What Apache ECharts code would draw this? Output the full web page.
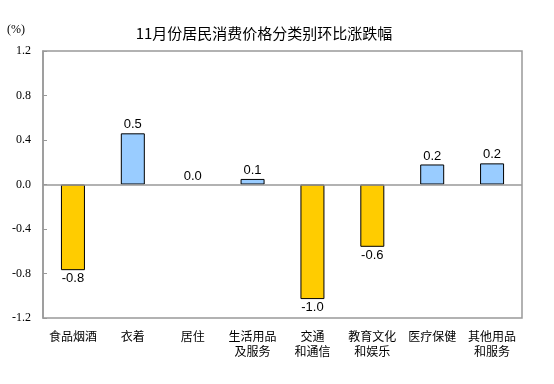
<!DOCTYPE html>
<html><head><meta charset="utf-8">
<script src="https://cdn.jsdelivr.net/npm/echarts@6/dist/echarts.min.js"></script>
<style>html,body{margin:0;padding:0;background:#fff}#c{width:554px;height:384px}</style>
</head><body><div id="c"></div>
<script>
const categories = ['食品烟酒','衣着','居住','生活用品\n及服务','交通\n和通信','教育文化\n和娱乐','医疗保健','其他用品\n和服务'];
const values = [-0.77, 0.46, 0, 0.05, -1.03, -0.56, 0.18, 0.19];
const valueLabels = ['-0.8','0.5','0.0','0.1','-1.0','-0.6','0.2','0.2'];
const title = '11月份居民消费价格分类别环比涨跌幅';
const unit = '(%)';

const chart = echarts.init(document.getElementById('c'), null, {renderer:'canvas'});
const data = values.map((v,i)=>({
  value: v,
  itemStyle: {color: v < 0 ? '#FFCC00' : '#99CCFF', borderWidth: v === 0 ? 0 : 1},
  label: {position: v < 0 ? 'bottom' : 'top', formatter: valueLabels[i]}
}));
chart.setOption({
  animation:false,
  title:{text:title,left:259,top:21,textAlign:'center',textStyle:{fontFamily:'Noto Sans CJK SC',fontSize:15,fontWeight:'normal',color:'#000'}},
  graphic:[{type:'text',left:7,top:24,style:{text:unit,fontFamily:'Liberation Serif',fontSize:12,fill:'#000'}}],
  grid:{left:43,right:32,top:51,bottom:66,show:true,borderColor:'#999',borderWidth:1.5,backgroundColor:'transparent'},
  xAxis:{type:'category',data:categories,axisLine:{show:false,onZero:false},axisTick:{show:false},
    axisLabel:{interval:0,margin:11,fontFamily:'Noto Sans CJK SC',fontSize:12,color:'#000',lineHeight:15}},
  yAxis:{type:'value',min:-1.2,max:1.2,interval:0.4,splitLine:{show:false},
    axisLine:{show:true,lineStyle:{color:'#999',width:1.5}},
    axisTick:{show:true,inside:true,length:4,lineStyle:{color:'#999'}},
    axisLabel:{margin:12,fontFamily:'Liberation Serif',fontSize:12,color:'#000',formatter:v=>v.toFixed(1)}},
  series:[{type:'bar',data:data,barWidth:24,
    itemStyle:{borderColor:'#000',borderWidth:1},
    label:{show:true,fontFamily:'Liberation Sans',fontSize:13,color:'#000',distance:2},
    markLine:{silent:true,symbol:'none',label:{show:false},lineStyle:{color:'#999',type:'solid',width:1.5},data:[{yAxis:0}]},
    z:3}]
});
</script></body></html>
